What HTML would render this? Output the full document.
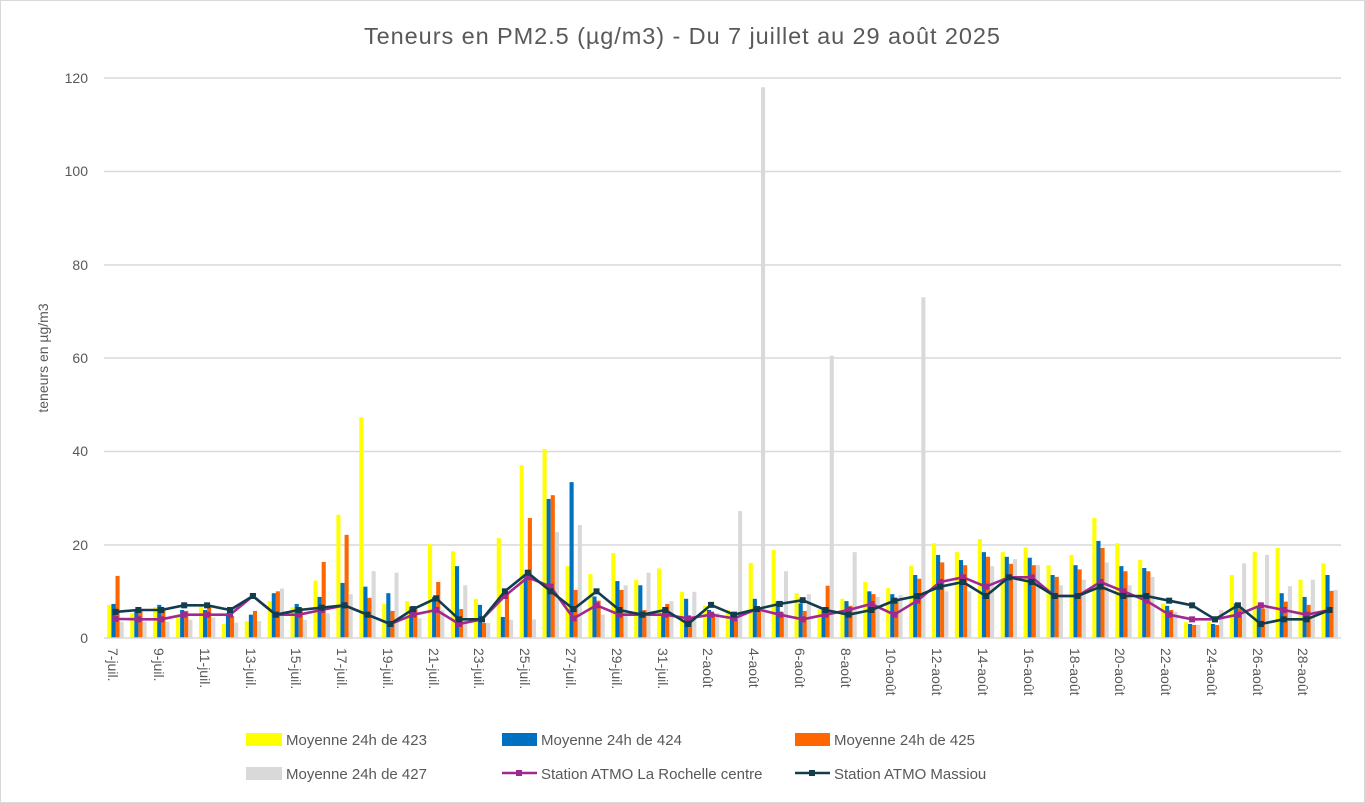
<!DOCTYPE html>
<html><head><meta charset="utf-8"><style>
html,body{margin:0;padding:0;background:#fff}
svg{display:block;font-family:"Liberation Sans",sans-serif}
</style></head><body>
<svg id="s" width="1365" height="803" viewBox="0 0 1365 803" xmlns="http://www.w3.org/2000/svg">
<rect x="0.5" y="0.5" width="1364" height="802" fill="#fff" stroke="#d9d9d9"/>
<text x="682" y="44" text-anchor="middle" font-size="23.5" fill="#595959" textLength="636" lengthAdjust="spacing">Teneurs en PM2.5 (µg/m3) - Du 7 juillet au 29 août 2025</text>
<g stroke="#d9d9d9" stroke-width="1.5">
<line x1="104" x2="1341" y1="78" y2="78"/><line x1="104" x2="1341" y1="171.5" y2="171.5"/><line x1="104" x2="1341" y1="265" y2="265"/><line x1="104" x2="1341" y1="358" y2="358"/><line x1="104" x2="1341" y1="451.5" y2="451.5"/><line x1="104" x2="1341" y1="545" y2="545"/>
</g>
<g font-size="14" fill="#595959" text-anchor="end">
<text x="88" y="83">120</text><text x="88" y="176">100</text><text x="88" y="270">80</text><text x="88" y="363">60</text><text x="88" y="456">40</text><text x="88" y="550">20</text><text x="88" y="643">0</text>
</g>
<text transform="translate(48,358) rotate(-90)" text-anchor="middle" font-size="14" fill="#595959">teneurs en µg/m3</text>
<g id="bars"></g>
<line x1="104" x2="1341" y1="638" y2="638" stroke="#d9d9d9" stroke-width="1.5"/>
<g id="lines"></g>
<g font-size="14" fill="#595959">
<text transform="translate(108,648) rotate(90)">7-juil.</text>
<text transform="translate(154,648) rotate(90)">9-juil.</text>
<text transform="translate(200,648) rotate(90)">11-juil.</text>
<text transform="translate(246,648) rotate(90)">13-juil.</text>
<text transform="translate(291,648) rotate(90)">15-juil.</text>
<text transform="translate(337,648) rotate(90)">17-juil.</text>
<text transform="translate(383,648) rotate(90)">19-juil.</text>
<text transform="translate(429,648) rotate(90)">21-juil.</text>
<text transform="translate(474,648) rotate(90)">23-juil.</text>
<text transform="translate(520,648) rotate(90)">25-juil.</text>
<text transform="translate(566,648) rotate(90)">27-juil.</text>
<text transform="translate(612,648) rotate(90)">29-juil.</text>
<text transform="translate(658,648) rotate(90)">31-juil.</text>
<text transform="translate(703,648) rotate(90)">2-août</text>
<text transform="translate(749,648) rotate(90)">4-août</text>
<text transform="translate(795,648) rotate(90)">6-août</text>
<text transform="translate(841,648) rotate(90)">8-août</text>
<text transform="translate(886,648) rotate(90)">10-août</text>
<text transform="translate(932,648) rotate(90)">12-août</text>
<text transform="translate(978,648) rotate(90)">14-août</text>
<text transform="translate(1024,648) rotate(90)">16-août</text>
<text transform="translate(1070,648) rotate(90)">18-août</text>
<text transform="translate(1115,648) rotate(90)">20-août</text>
<text transform="translate(1161,648) rotate(90)">22-août</text>
<text transform="translate(1207,648) rotate(90)">24-août</text>
<text transform="translate(1253,648) rotate(90)">26-août</text>
<text transform="translate(1298,648) rotate(90)">28-août</text>
</g>
<g font-size="15" fill="#595959">
<rect x="246" y="733" width="36" height="13" fill="#ffff00"/><text x="286" y="745">Moyenne 24h de 423</text>
<rect x="502" y="733" width="35" height="13" fill="#0070c0"/><text x="541" y="745">Moyenne 24h de 424</text>
<rect x="795" y="733" width="35" height="13" fill="#ff6600"/><text x="834" y="745">Moyenne 24h de 425</text>
<rect x="246" y="767" width="36" height="13" fill="#d9d9d9"/><text x="286" y="779">Moyenne 24h de 427</text>
<line x1="502" x2="537" y1="773" y2="773" stroke="#a0298f" stroke-width="2.5"/><rect x="516" y="770" width="6" height="6" fill="#a0298f"/><text x="541" y="779">Station ATMO La Rochelle centre</text>
<line x1="795" x2="830" y1="773" y2="773" stroke="#123d4e" stroke-width="2.5"/><rect x="809" y="770" width="6" height="6" fill="#123d4e"/><text x="834" y="779">Station ATMO Massiou</text>
</g>
</svg>
<script>
var Y=[7.1,5.3,6.6,4.6,6.7,3,3.6,7.9,6.6,12.3,26.4,47.3,7.3,7.9,20.1,18.6,8.4,21.4,37,40.5,15.4,13.7,18.2,12.4,14.9,9.9,6.9,6,16.1,18.9,9.6,6.1,8.4,12,10.7,15.5,20.3,18.4,21.2,18.4,19.4,15.6,17.8,25.7,20.3,16.7,7.4,3.4,3.4,13.5,18.4,19.3,12.5,16];
var B=[7.3,6,7.1,6,6,5.3,5,9.6,7.3,8.8,11.8,11,9.6,6.7,8.8,15.4,7.1,4.5,13,29.8,33.4,8.9,12.2,11.3,5.3,8.4,6,5,8.4,7.9,7.4,6,7.9,10,9.4,13.5,17.8,16.7,18.4,17.4,17.2,13.5,15.6,20.8,15.4,15,6.9,3,3,7.4,6.6,9.6,8.8,13.5];
var O=[13.3,6,6,5.8,6.7,4.7,5.8,10,6.4,16.3,22.1,8.6,5.8,6.2,12,6.2,3.2,10,25.7,30.6,10.3,8,10.3,6,7.3,4.6,5.3,4.2,6,5.5,5.8,11.2,6.9,9.4,8.1,12.7,16.2,15.6,17.4,15.9,15.6,13.1,14.7,19.3,14.3,14.3,6,2.8,2.8,6.3,6.3,7.8,7.1,10.1];
var G=[3.5,3.5,3.5,3.9,4.4,3.3,3.6,10.6,3.9,5.3,9.4,14.3,14,4.2,6,11.3,3.2,3.9,4,22.7,24.2,5,11.3,14,7.9,9.9,5.3,27.2,118,14.3,9.4,60.5,18.4,8.8,9.2,73,10,10,15.4,16.9,15.6,11.3,12.5,16.2,11.3,13.1,5.6,2.8,6,16,17.8,11.1,12.5,10.3];
var P=[4.1,4,4,5,5,5,9,5,5,6,7,5,3,5,6,3,4,9,13,11,4.2,7,5,5,5,4.2,5,4.2,6.2,5,4,5,6,7.3,5,8,12,13,11,13,13,9,9,12,10,8,5,4,4,5,7,6,5,6];
var D=[5.6,6,6,7,7,6,9,5,6,6.5,7,5,3,6.2,8.5,4,4,10,14,10,6.2,10,6,5,6,3,7.1,5,6.2,7.3,8.1,6,5,6,8,9,11,12,9,13,12,9,9,11,9,9,8,7,4,7,3,4,4,6];
var ns="http://www.w3.org/2000/svg",st=1237/54,bg=document.getElementById("bars"),lg=document.getElementById("lines");
function yv(v){return 638-v*4.667;}
function rect(g,x,y,w,h,c){var r=document.createElementNS(ns,"rect");r.setAttribute("x",x);r.setAttribute("y",y);r.setAttribute("width",w);r.setAttribute("height",h);r.setAttribute("fill",c);g.appendChild(r);}
var cols=["#ffff00","#0070c0","#ff6600","#d9d9d9"],ser=[Y,B,O,G];
for(var i=0;i<54;i++){var x0=104+st*i+3.3;for(var k=0;k<4;k++){var v=ser[k][i];rect(bg,x0+k*4.1,yv(v),4.1,v*4.667,cols[k]);}}
function line(d,c){var pts=d.map(function(v,i){return (104+st*(i+0.5)).toFixed(1)+","+yv(v).toFixed(1);}).join(" ");var p=document.createElementNS(ns,"polyline");p.setAttribute("points",pts);p.setAttribute("fill","none");p.setAttribute("stroke",c);p.setAttribute("stroke-width","2.6");p.setAttribute("stroke-linejoin","round");lg.appendChild(p);d.forEach(function(v,i){rect(lg,104+st*(i+0.5)-3,yv(v)-3,6,6,c);});}
line(P,"#a0298f");line(D,"#123d4e");
</script>
</body></html>
